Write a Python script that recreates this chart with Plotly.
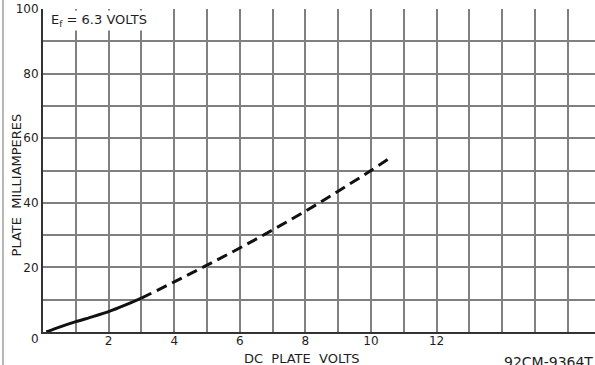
import plotly.graph_objects as go

# Plate characteristic, each diode unit (Ef = 6.3 V)
solid_volts = [0.1, 0.5, 1.0, 1.5, 2.0, 2.5, 3.0]
solid_ma = [0.0, 1.5, 3.2, 4.7, 6.3, 8.3, 10.5]
dash_volts = [3.0, 4.0, 5.0, 6.0, 7.0, 8.0, 9.0, 10.0, 10.6]
dash_ma = [10.5, 15.5, 20.7, 26.0, 31.6, 37.4, 43.6, 50.0, 54.0]

x_tick_vals = [2, 4, 6, 8, 10, 12]
x_tick_text = ["2", "4", "6", "8", "10", "12"]
y_tick_vals = [20, 40, 60, 80, 100]
y_tick_text = ["20", "40", "60", "80", "100"]

FONT = "DejaVu Sans"
INK = "#1e1e1e"
GRID = "#808080"

fig = go.Figure()
fig.add_trace(go.Scatter(
    x=solid_volts, y=solid_ma, mode="lines",
    line=dict(color="#111111", width=3, shape="spline", smoothing=0.7),
    hoverinfo="skip", showlegend=False))
fig.add_trace(go.Scatter(
    x=dash_volts, y=dash_ma, mode="lines",
    line=dict(color="#111111", width=3, shape="spline", dash="11px,6px"),
    hoverinfo="skip", showlegend=False))

fig.update_xaxes(
    range=[0, 16.83],
    showgrid=True, gridcolor=GRID, gridwidth=1.5,
    tickmode="array", tickvals=x_tick_vals, ticktext=x_tick_text,
    showline=True, linecolor="#333333", linewidth=2,
    zeroline=False, ticks="", ticklen=0, ticklabelstandoff=-3,
    tickfont=dict(family=FONT, size=12, color=INK),
    minor=dict(dtick=1, tick0=0, showgrid=True, gridcolor=GRID, gridwidth=1.5),
)
fig.update_yaxes(
    range=[0, 100],
    showgrid=True, gridcolor=GRID, gridwidth=1.5,
    tickmode="array", tickvals=y_tick_vals, ticktext=y_tick_text,
    showline=True, linecolor="#333333", linewidth=2,
    zeroline=False, ticks="", ticklen=0, ticklabelstandoff=0,
    tickfont=dict(family=FONT, size=12, color=INK),
    minor=dict(dtick=10, tick0=0, showgrid=True, gridcolor=GRID, gridwidth=1.5),
)

fig.add_annotation(xref="paper", yref="paper", x=-0.003, y=0.006,
                   text="0", showarrow=False, xanchor="right", yanchor="top",
                   font=dict(family=FONT, size=12, color=INK))
fig.add_annotation(xref="paper", yref="paper", x=0.469, y=-0.052,
                   text="DC  PLATE  VOLTS", showarrow=False,
                   xanchor="center", yanchor="top",
                   font=dict(family=FONT, size=13, color=INK))
fig.add_annotation(xref="paper", yref="paper", x=-0.031, y=0.455,
                   text="PLATE  MILLIAMPERES", showarrow=False, textangle=-90,
                   xanchor="right", yanchor="middle",
                   font=dict(family=FONT, size=13, color=INK))
fig.add_annotation(xref="paper", yref="paper", x=0.01, y=0.997,
                   text="E<sub>f</sub> = 6.3 VOLTS", showarrow=False,
                   xanchor="left", yanchor="top", bgcolor="white",
                   font=dict(family=FONT, size=13, color=INK))
fig.add_annotation(xref="paper", yref="paper", x=0.465, y=1.052,
                   text="EACH  DIODE  UNIT", showarrow=False,
                   xanchor="center", yanchor="middle",
                   font=dict(family=FONT, size=13, color=INK))
fig.add_annotation(xref="paper", yref="paper", x=1.0, y=-0.062,
                   text="92CM-9364T", showarrow=False,
                   xanchor="right", yanchor="top",
                   font=dict(family=FONT, size=14, color=INK))

# page edge rule at the far left
fig.add_shape(type="line", xref="paper", yref="paper",
              x0=-0.0725, x1=-0.0725, y0=-0.11, y1=1.03,
              line=dict(color="#888888", width=1.2))

fig.update_layout(
    width=595, height=365,
    margin=dict(l=43, r=0, t=9, b=33),
    paper_bgcolor="white", plot_bgcolor="white",
    showlegend=False,
)

fig.write_html("out.html")
